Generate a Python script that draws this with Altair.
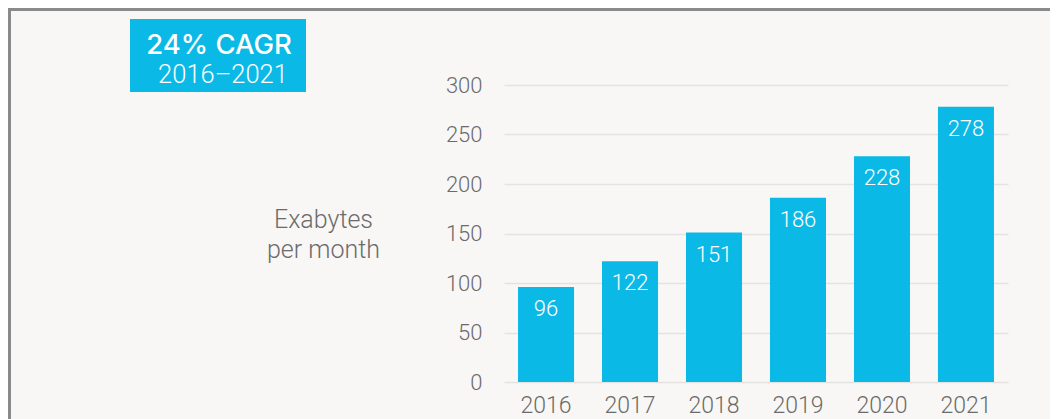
import altair as alt
import pandas as pd

years = ["2016", "2017", "2018", "2019", "2020", "2021"]
values = [96, 122, 151, 186, 228, 278]
y_ticks = [0, 50, 100, 150, 200, 250, 300]
cagr_title = "24% CAGR"
cagr_period = "2016–2021"
unit_line1 = "Exabytes"
unit_line2 = "per month"

BAR = "#0bb9e6"
GRAY = "#6b6b6b"
FONT = "Roboto"

df = pd.DataFrame({"year": years, "value": values})
one = pd.DataFrame({"k": [0]})

x_enc = alt.X(
    "year:O",
    sort=years,
    scale=alt.Scale(paddingInner=0.333, paddingOuter=0.167),
    axis=alt.Axis(title=None, labelAngle=0, ticks=False, domain=False,
                  labelFontSize=23, labelColor=GRAY, labelPadding=30,
                  labelBaseline="alphabetic",
                  labelFont=FONT, labelFontWeight=300, grid=False),
)
y_enc = alt.Y(
    "value:Q",
    scale=alt.Scale(domain=[0, 300], nice=False),
    axis=alt.Axis(title=None, values=y_ticks, ticks=False, domain=False,
                  labelFontSize=22, labelColor=GRAY, labelPadding=22,
                  labelFont=FONT, labelFontWeight=300,
                  gridColor="#e4e3e1", gridWidth=1.5),
)

bars = alt.Chart(df).mark_bar(color=BAR).encode(x=x_enc, y=y_enc)
labels = alt.Chart(df).mark_text(
    color="white", fontSize=22, dy=29, baseline="alphabetic", font=FONT, fontWeight=300
).encode(x=alt.X("year:O", sort=years), y=alt.Y("value:Q"), text="value:Q")

frame = alt.Chart(one).mark_rect(
    fillOpacity=0, stroke="#8a8a8a", strokeWidth=3
).encode(x=alt.value(-494.5), x2=alt.value(700), y=alt.value(-75.5), y2=alt.value(500))

box = alt.Chart(one).mark_rect(color=BAR).encode(
    x=alt.value(-374), x2=alt.value(-198), y=alt.value(-66), y2=alt.value(7)
)
t1 = alt.Chart(one).mark_text(
    text=cagr_title, color="white", fontSize=27.5, fontWeight=500,
    font="Inter", align="center", baseline="alphabetic"
).encode(x=alt.value(-285), y=alt.value(-31))
t2 = alt.Chart(one).mark_text(
    text=cagr_period, color="white", fontSize=25.5, fontWeight=300, font=FONT,
    align="center", baseline="alphabetic"
).encode(x=alt.value(-281), y=alt.value(-2))
u1 = alt.Chart(one).mark_text(
    text=unit_line1, color=GRAY, fontSize=25, fontWeight=300, font=FONT,
    align="center", baseline="alphabetic"
).encode(x=alt.value(-180.5), y=alt.value(143))
u2 = alt.Chart(one).mark_text(
    text=unit_line2, color=GRAY, fontSize=25, fontWeight=300, font=FONT,
    align="center", baseline="alphabetic"
).encode(x=alt.value(-180.5), y=alt.value(173))

chart = alt.layer(frame, box, t1, t2, u1, u2, bars, labels).properties(
    width=504,
    height=297,
    autosize=alt.AutoSizeParams(type="none"),
    padding={"left": 496, "top": 77, "right": 42, "bottom": 37},
    background="#f8f7f5",
).configure_view(strokeWidth=0)

chart.save("out.html", embed_options={"renderer": "svg", "actions": False})
